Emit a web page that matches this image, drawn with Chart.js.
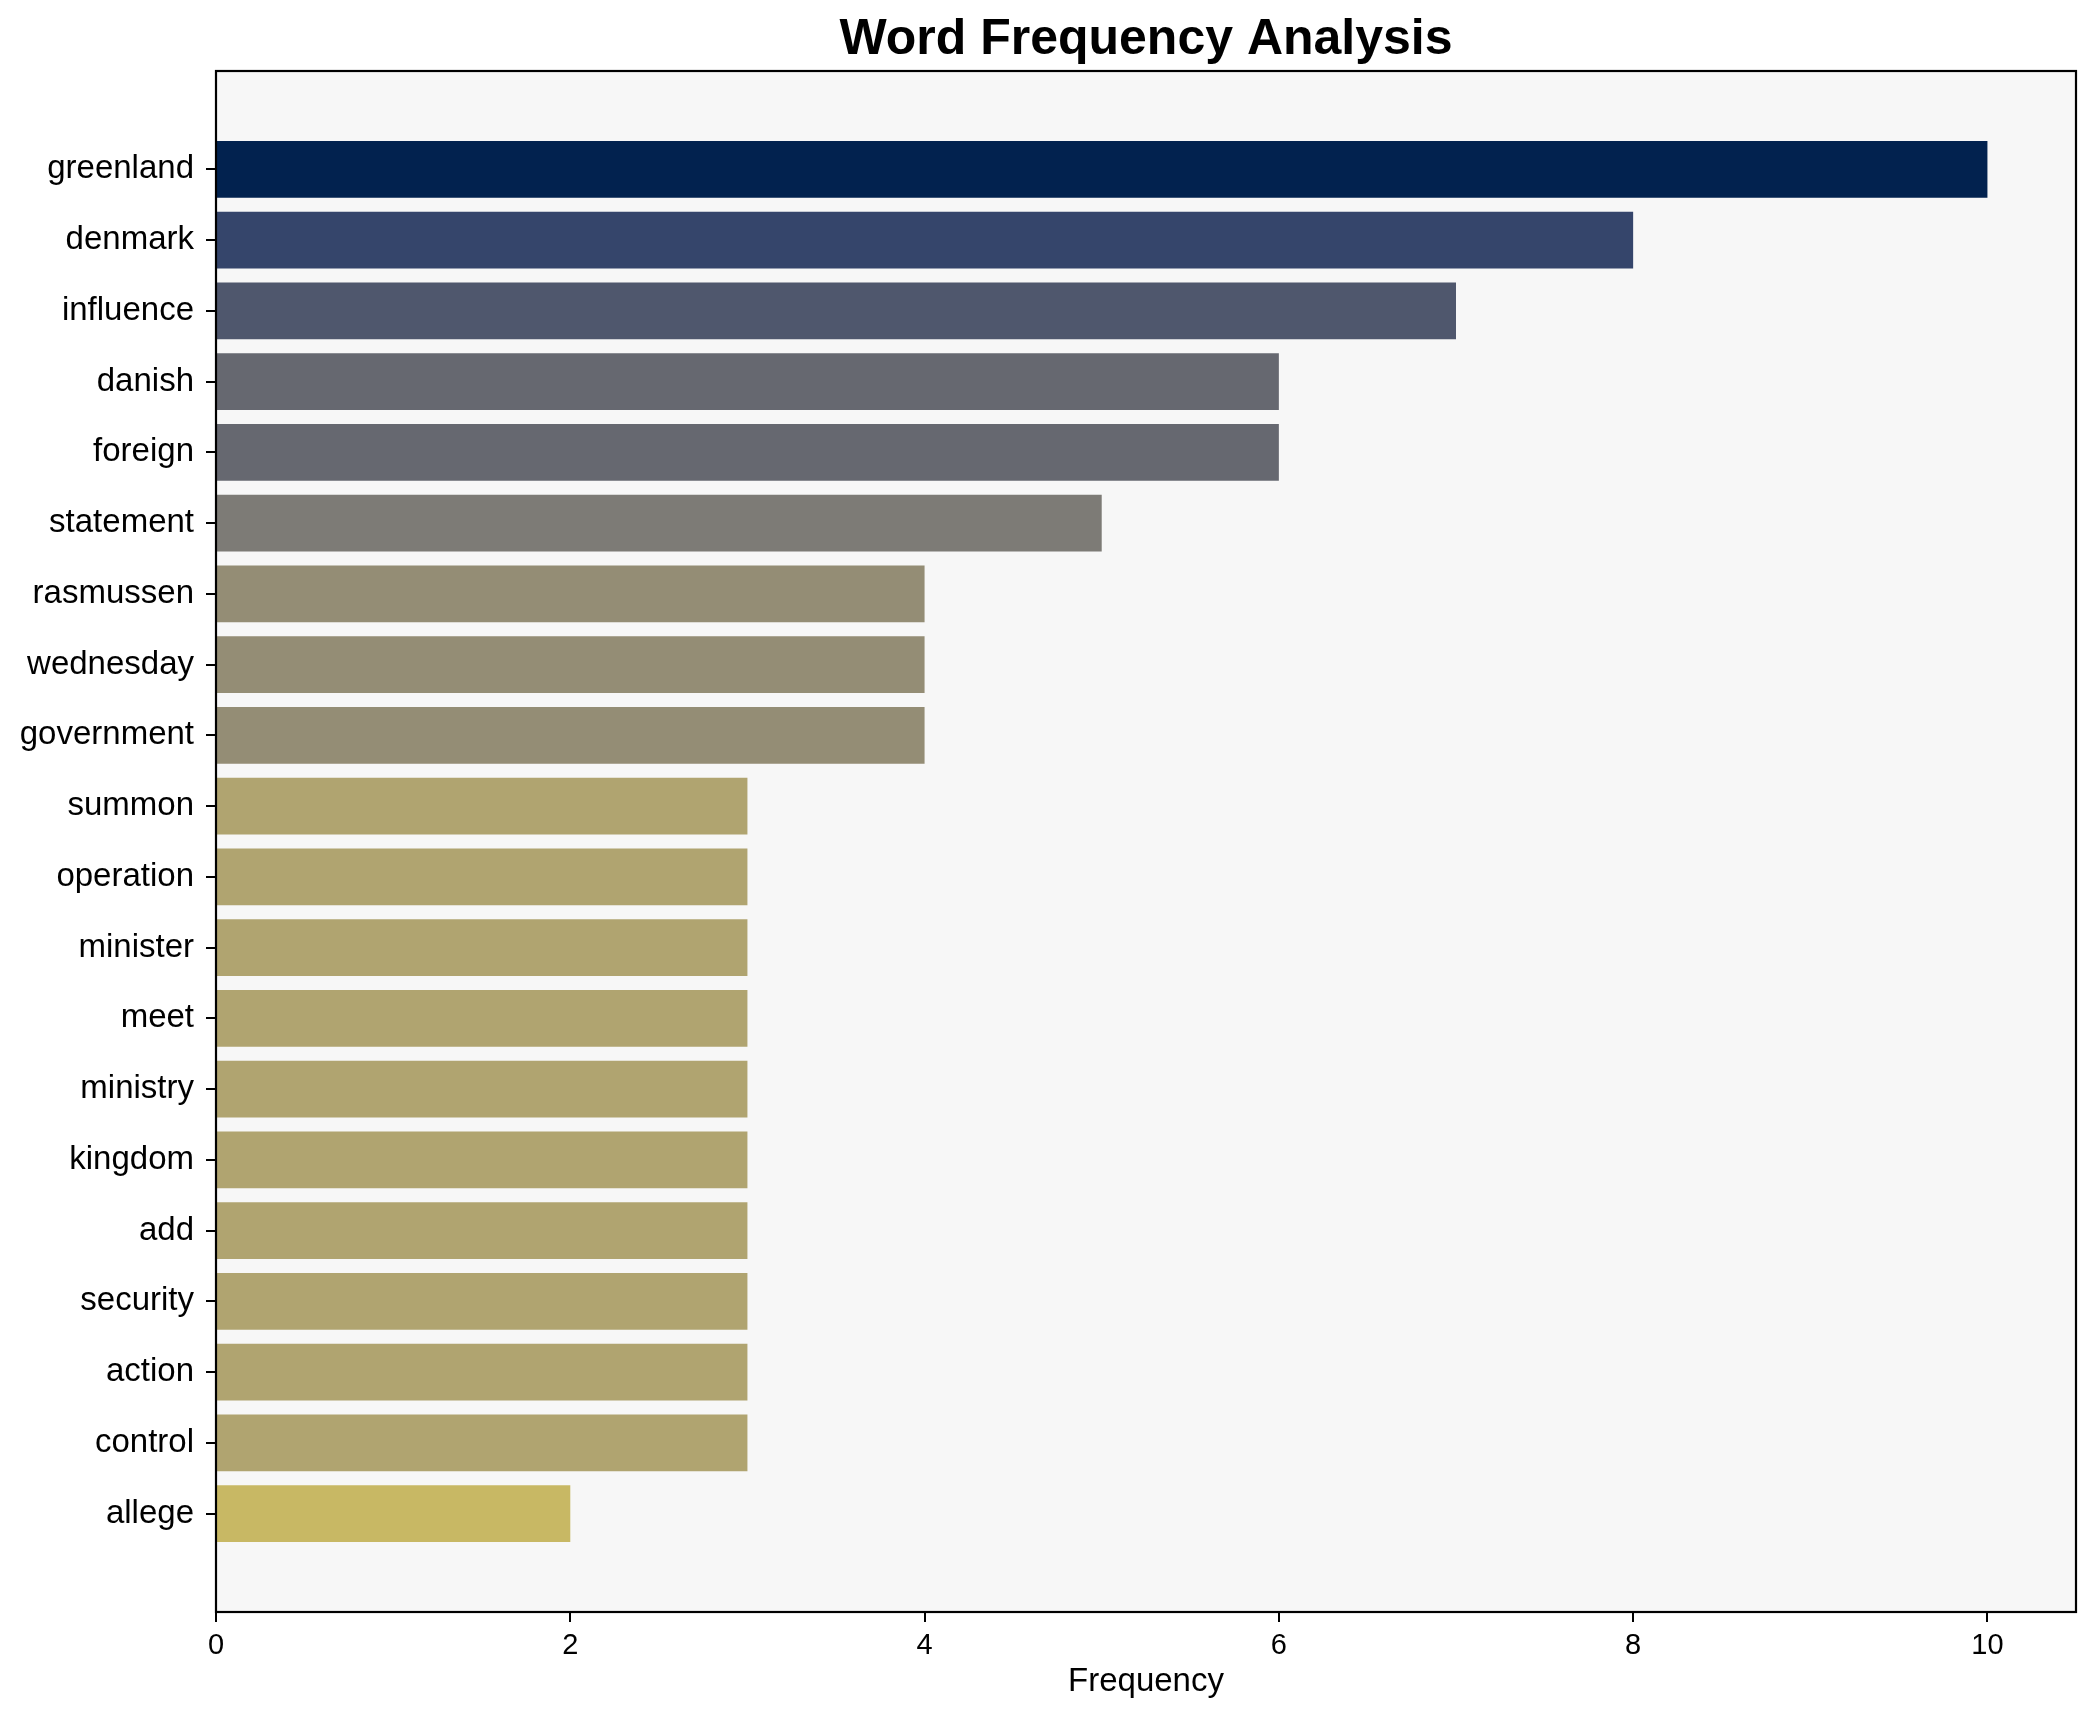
<!DOCTYPE html>
<html>
<head>
<meta charset="utf-8">
<script src="https://cdn.jsdelivr.net/npm/chart.js@4/dist/chart.umd.min.js"></script>
<style>
  html, body { margin: 0; padding: 0; background: #fff; }
  #chart { display: block; }
</style>
</head>
<body>
<canvas id="chart" width="2095" height="1722"></canvas>
<script>
// word counts, top of the list first
const words = [
  "greenland", "denmark", "influence", "danish", "foreign", "statement",
  "rasmussen", "wednesday", "government", "summon", "operation", "minister",
  "meet", "ministry", "kingdom", "add", "security", "action", "control", "allege"
];
const freqs = [10, 8, 7, 6, 6, 5, 4, 4, 4, 3, 3, 3, 3, 3, 3, 3, 3, 3, 3, 2];
const xTicks = [0, 2, 4, 6, 8, 10];

// one colour per count (cividis-like)
const colorFor = {
  10: "#02224f",
  8: "#35456b",
  7: "#4f576d",
  6: "#666870",
  5: "#7d7b76",
  4: "#948d75",
  3: "#b0a470",
  2: "#c8b864"
};

const points = words.map((w, i) => ({ x: freqs[i], y: i }));

// plot area background + full frame like matplotlib spines,
// and title centred over the plot area instead of the canvas
const frame = {
  id: "frame",
  afterLayout(chart) {
    const a = chart.chartArea;
    if (chart.titleBlock) {
      chart.titleBlock.left = a.left;
      chart.titleBlock.right = a.right;
    }
  },
  beforeDatasetsDraw(chart) {
    const { ctx, chartArea: a } = chart;
    ctx.save();
    ctx.fillStyle = "#f7f7f7";
    ctx.fillRect(a.left, a.top, a.right - a.left, a.bottom - a.top);
    ctx.restore();
  },
  afterDraw(chart) {
    const { ctx, chartArea: a } = chart;
    ctx.save();
    ctx.strokeStyle = "#000";
    ctx.lineWidth = 2.2;
    ctx.strokeRect(a.left, a.top, a.right - a.left, a.bottom - a.top);
    ctx.restore();
  }
};

new Chart(document.getElementById("chart"), {
  type: "bar",
  data: {
    datasets: [{
      data: points,
      backgroundColor: freqs.map(f => colorFor[f]),
      borderWidth: 0,
      barPercentage: 0.8,
      categoryPercentage: 1.0
    }]
  },
  options: {
    indexAxis: "y",
    responsive: false,
    devicePixelRatio: 1,
    animation: false,
    layout: { padding: { left: 0, right: 19, top: 0, bottom: 0 } },
    plugins: {
      legend: { display: false },
      tooltip: { enabled: false },
      title: {
        display: true,
        text: "Word Frequency Analysis",
        color: "#000",
        font: { family: "Liberation Sans", size: 50, weight: "bold" },
        padding: { top: 10, bottom: 1 }
      }
    },
    scales: {
      x: {
        type: "linear",
        min: 0,
        max: 10.5,
        afterBuildTicks: (scale) => { scale.ticks = xTicks.map(v => ({ value: v })); },
        afterFit: (scale) => { scale.height = 110; },
        grid: { drawOnChartArea: false, drawTicks: true, tickLength: 10, color: "#000", lineWidth: 2 },
        border: { display: true, color: "#000", width: 2 },
        ticks: {
          color: "#000",
          padding: 7,
          font: { family: "Liberation Sans", size: 29 }
        },
        title: {
          display: true,
          text: "Frequency",
          color: "#000",
          font: { family: "Liberation Sans", size: 33 },
          padding: { top: 4, bottom: 20 }
        }
      },
      y: {
        type: "linear",
        min: -1.39,
        max: 20.39,
        reverse: true,
        offset: false,
        afterBuildTicks: (scale) => { scale.ticks = words.map((w, i) => ({ value: i })); },
        afterFit: (scale) => { scale.width = 216; },
        grid: { offset: false, drawOnChartArea: false, drawTicks: true, tickLength: 10, color: "#000", lineWidth: 2 },
        border: { display: true, color: "#000", width: 2 },
        ticks: {
          color: "#000",
          padding: 12,
          autoSkip: false,
          font: { family: "Liberation Sans", size: 33 },
          callback: (v) => words[v] ?? ""
        }
      }
    }
  },
  plugins: [frame]
});
</script>
</body>
</html>
